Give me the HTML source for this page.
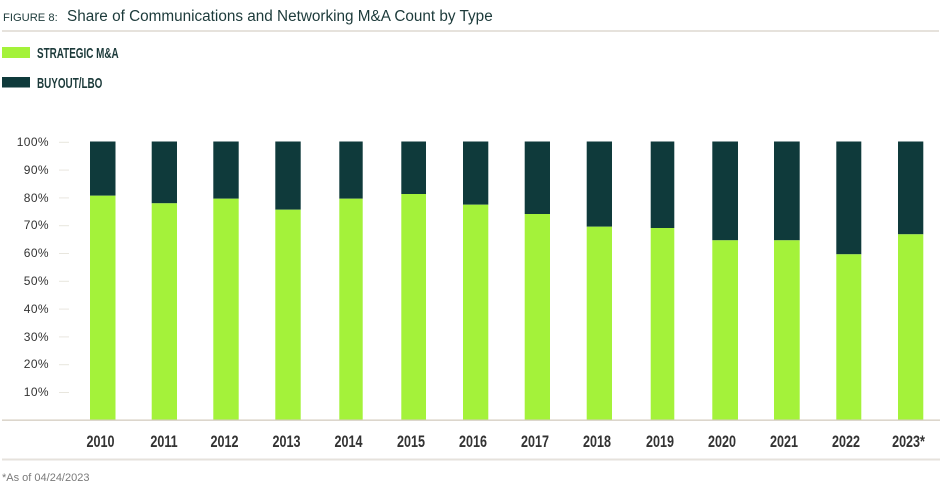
<!DOCTYPE html>
<html><head><meta charset="utf-8"><style>
html,body{margin:0;padding:0;background:#fff;}
body{width:945px;height:490px;overflow:hidden;}
svg{display:block;}
</style></head><body>
<svg width="945" height="490" viewBox="0 0 945 490" xmlns="http://www.w3.org/2000/svg">
<text x="3" y="21" font-family="Liberation Sans, sans-serif" font-size="11.2" fill="#1c3a3a">FIGURE 8:</text>
<text x="67" y="21" font-family="Liberation Sans, sans-serif" font-size="15.3" fill="#1c3a3a">Share of Communications and Networking M&amp;A Count by Type</text>
<rect x="2" y="30" width="937" height="2" fill="#e6e2dc"/>
<rect x="2" y="47" width="28" height="11" fill="#a4f23a"/>
<text transform="translate(37,58) scale(0.66,1)" font-family="Liberation Sans, sans-serif" font-weight="bold" font-size="15" fill="#1c3a3a">STRATEGIC M&amp;A</text>
<rect x="2" y="77" width="28" height="10.5" fill="#0f3a3b"/>
<text transform="translate(37,88) scale(0.66,1)" font-family="Liberation Sans, sans-serif" font-weight="bold" font-size="15" fill="#1c3a3a">BUYOUT/LBO</text>
<g font-family="Liberation Sans, sans-serif" font-size="12" fill="#333" text-anchor="end" letter-spacing="0.4">
<text x="49" y="146">100%</text>
<text x="49" y="174">90%</text>
<text x="49" y="202">80%</text>
<text x="49" y="229">70%</text>
<text x="49" y="257">60%</text>
<text x="49" y="285">50%</text>
<text x="49" y="313">40%</text>
<text x="49" y="341">30%</text>
<text x="49" y="368">20%</text>
<text x="49" y="396">10%</text>
</g>
<g stroke="#e8e6de" stroke-width="1">
<line x1="59" x2="69" y1="142.3" y2="142.3"/>
<line x1="59" x2="69" y1="170.1" y2="170.1"/>
<line x1="59" x2="69" y1="197.9" y2="197.9"/>
<line x1="59" x2="69" y1="225.7" y2="225.7"/>
<line x1="59" x2="69" y1="253.5" y2="253.5"/>
<line x1="59" x2="69" y1="281.3" y2="281.3"/>
<line x1="59" x2="69" y1="309.1" y2="309.1"/>
<line x1="59" x2="69" y1="336.9" y2="336.9"/>
<line x1="59" x2="69" y1="364.7" y2="364.7"/>
<line x1="59" x2="69" y1="392.5" y2="392.5"/>
</g>
<g>
<rect x="90" y="141.5" width="25.5" height="54.2" fill="#0f3a3b"/><rect x="90" y="195.7" width="25.5" height="224.3" fill="#a4f23a"/>
<rect x="151.7" y="141.5" width="25.3" height="61.8" fill="#0f3a3b"/><rect x="151.7" y="203.3" width="25.3" height="216.7" fill="#a4f23a"/>
<rect x="213.3" y="141.5" width="25.4" height="57.2" fill="#0f3a3b"/><rect x="213.3" y="198.7" width="25.4" height="221.3" fill="#a4f23a"/>
<rect x="275.3" y="141.5" width="25.4" height="68.2" fill="#0f3a3b"/><rect x="275.3" y="209.7" width="25.4" height="210.3" fill="#a4f23a"/>
<rect x="339.3" y="141.5" width="23.4" height="57.2" fill="#0f3a3b"/><rect x="339.3" y="198.7" width="23.4" height="221.3" fill="#a4f23a"/>
<rect x="401.3" y="141.5" width="24.7" height="52.5" fill="#0f3a3b"/><rect x="401.3" y="194" width="24.7" height="226" fill="#a4f23a"/>
<rect x="463" y="141.5" width="25.3" height="63.2" fill="#0f3a3b"/><rect x="463" y="204.7" width="25.3" height="215.3" fill="#a4f23a"/>
<rect x="524.7" y="141.5" width="25.3" height="72.5" fill="#0f3a3b"/><rect x="524.7" y="214" width="25.3" height="206" fill="#a4f23a"/>
<rect x="586.7" y="141.5" width="25.3" height="85.2" fill="#0f3a3b"/><rect x="586.7" y="226.7" width="25.3" height="193.3" fill="#a4f23a"/>
<rect x="650.7" y="141.5" width="23.6" height="86.5" fill="#0f3a3b"/><rect x="650.7" y="228" width="23.6" height="192" fill="#a4f23a"/>
<rect x="712.3" y="141.5" width="25.7" height="98.8" fill="#0f3a3b"/><rect x="712.3" y="240.3" width="25.7" height="179.7" fill="#a4f23a"/>
<rect x="774" y="141.5" width="25.7" height="98.8" fill="#0f3a3b"/><rect x="774" y="240.3" width="25.7" height="179.7" fill="#a4f23a"/>
<rect x="836.3" y="141.5" width="25" height="112.8" fill="#0f3a3b"/><rect x="836.3" y="254.3" width="25" height="165.7" fill="#a4f23a"/>
<rect x="898" y="141.5" width="25.3" height="92.8" fill="#0f3a3b"/><rect x="898" y="234.3" width="25.3" height="185.7" fill="#a4f23a"/>
</g>
<rect x="2" y="419.5" width="938" height="1.3" fill="#d4ccbf"/>
<g font-family="Liberation Sans, sans-serif" font-weight="bold" font-size="17" fill="#333" text-anchor="middle">
<text transform="translate(100.5,447) scale(0.74,1)">2010</text>
<text transform="translate(164,447) scale(0.74,1)">2011</text>
<text transform="translate(224.5,447) scale(0.74,1)">2012</text>
<text transform="translate(286.5,447) scale(0.74,1)">2013</text>
<text transform="translate(348.5,447) scale(0.74,1)">2014</text>
<text transform="translate(411,447) scale(0.74,1)">2015</text>
<text transform="translate(473,447) scale(0.74,1)">2016</text>
<text transform="translate(535,447) scale(0.74,1)">2017</text>
<text transform="translate(597,447) scale(0.74,1)">2018</text>
<text transform="translate(660,447) scale(0.74,1)">2019</text>
<text transform="translate(722,447) scale(0.74,1)">2020</text>
<text transform="translate(784,447) scale(0.74,1)">2021</text>
<text transform="translate(846,447) scale(0.74,1)">2022</text>
<text transform="translate(908.5,447) scale(0.74,1)">2023*</text>
</g>
<rect x="2" y="458.5" width="938" height="2" fill="#e6e2dc"/>
<text x="2" y="481" font-family="Liberation Sans, sans-serif" font-size="11" fill="#7a7a7a">*As of 04/24/2023</text>
</svg>
</body></html>
